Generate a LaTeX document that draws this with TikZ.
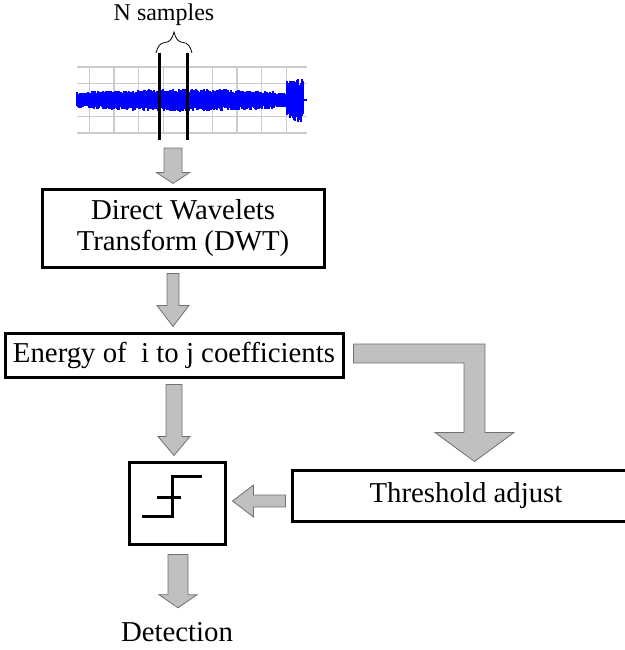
\documentclass[tikz,border=0pt]{standalone}
\usepackage{fontspec}
\setmainfont{Liberation Serif}
\usepackage{tikz}
\usetikzlibrary{calc,decorations.pathreplacing}

\definecolor{arrowfill}{HTML}{C0C0C0}
\definecolor{arrowline}{HTML}{707070}
\definecolor{gridgray}{HTML}{CCCCCC}

% block arrow pointing down: top, tip, shaft half width, head half width, head length
\newcommand{\blockdown}[5]{%
  \path[blockarrow] let \p1=(#1), \p2=(#2) in
    (\x1-#3pt,\y1) -- (\x1+#3pt,\y1) -- (\x1+#3pt,\y2+#5pt) -- (\x1+#4pt,\y2+#5pt)
    -- (\x1,\y2) -- (\x1-#4pt,\y2+#5pt) -- (\x1-#3pt,\y2+#5pt) -- cycle;}
% block arrow pointing left: tail, tip, shaft half width, head half width, head length
\newcommand{\blockleft}[5]{%
  \path[blockarrow] let \p1=(#1), \p2=(#2) in
    (\x1,\y1+#3pt) -- (\x1,\y1-#3pt) -- (\x2+#5pt,\y1-#3pt) -- (\x2+#5pt,\y1-#4pt)
    -- (\x2,\y1) -- (\x2+#5pt,\y1+#4pt) -- (\x2+#5pt,\y1+#3pt) -- cycle;}

\begin{document}
\begin{tikzpicture}[
    x=1pt, y=-1pt,
    box/.style={
        draw,
        line width=3pt,
        inner sep=0pt,
        align=center,
        font=\fontsize{28.8}{31}\selectfont,
    },
    blockarrow/.style={fill=arrowfill, draw=arrowline, line width=0.8pt},
    gridline/.style={draw=gridgray, line width=1.5pt},
    signal/.style={draw=blue, line width=1.2pt},
    winline/.style={draw=black, line width=3pt},
]
\useasboundingbox (0,0) rectangle (624,650);

% ----- Signal with sample window -----
\foreach \y in {67,83.5,100,116.5,133}
    \draw[gridline] (77,\y) -- (307,\y);
\foreach \i in {0,...,8}
    \draw[gridline] ({89.5+24.6*\i},67) -- ({89.5+24.6*\i},133);

\pgfmathsetseed{7}
\foreach \x in {77,78,...,286} {
    \pgfmathsetmacro{\env}{7.5+3*sin(0.857*(\x-77))}
    \pgfmathsetmacro{\up}{\env*(0.7+0.4*rnd)}
    \pgfmathsetmacro{\dn}{\env*(0.7+0.4*rnd)}
    \draw[signal] (\x,100-\up) -- (\x,100+\dn);
}
\foreach \x in {287,288,...,303} {
    \pgfmathsetmacro{\up}{13+9*rnd}
    \pgfmathsetmacro{\dn}{13+9*rnd}
    \draw[signal] (\x,100-\up) -- (\x,100+\dn);
}
\draw[signal] (303,100) -- (307,100);

\draw[winline] (159,53) -- (159,140);
\draw[winline] (187,53) -- (187,140);
\draw[decorate, decoration={brace, amplitude=21pt}, line width=0.8pt]
    (156,53) -- (192,53);
\node[font=\fontsize{24}{28}\selectfont] (nsamp) at (164,15) {N samples};

% ----- Boxes -----
\node[box, minimum width=282pt, minimum height=78pt] (dwt) at (183,228)
    {Direct Wavelets\\Transform (DWT)};
\node[box, minimum width=338pt, minimum height=44pt] (energy) at (174,355)
    {Energy of~ i to j coefficients};
\node[box, minimum width=96pt, minimum height=82pt] (sym) at (177,503) {};
\node[box, minimum width=348pt, minimum height=51pt] (thr) at (466,495.5)
    {Threshold adjust};
\node[font=\fontsize{28.8}{31}\selectfont] (det) at (177,632) {Detection};

% step symbol
\begin{scope}[shift={(sym.center)}, line width=3pt]
    \draw (-35,13) -- (-5,13) -- (-5,-27) -- (25,-27);
    \draw (-20,-6) -- (4,-6);
\end{scope}

% ----- Block arrows -----
\coordinate (a1s) at (173,148);
\coordinate (a2s) at ($(dwt.south)+(-10,5)$);
\coordinate (a3s) at ($(energy.south)+(0,6)$);
\coordinate (a4s) at ($(sym.south)+(1,9)$);
\blockdown{a1s}{$(a1s |- dwt.north)+(0,-4)$}{9}{16.5}{11}
\blockdown{a2s}{$(a2s |- energy.north)+(0,-5)$}{6}{16}{21}
\blockdown{a3s}{$(a3s |- sym.north)+(0,-5)$}{8}{16}{19}
\blockdown{a4s}{$(a4s |- det.north)+(0,-11)$}{10}{19}{13}

\coordinate (lts) at ($(thr.west)+(-5,5.5)$);
\blockleft{lts}{$(sym.east)+(6,0)$}{6}{16}{21}

% L-shaped arrow from energy to threshold
\coordinate (ls) at ($(energy.east)+(9,-1.5)$);
\coordinate (lt) at ($(thr.north)+(8.5,-7)$);
\path[blockarrow] let \p1=(ls), \p2=(lt) in
    (\x1,\y1+9.5pt) -- (\x2+10.5pt,\y1+9.5pt) -- (\x2+10.5pt,\y2+29pt)
    -- (\x2+39.5pt,\y2+29pt) -- (\x2,\y2) -- (\x2-39.5pt,\y2+29pt)
    -- (\x2-10.5pt,\y2+29pt) -- (\x2-10.5pt,\y1-9.5pt) -- (\x1,\y1-9.5pt) -- cycle;

\end{tikzpicture}
\end{document}
